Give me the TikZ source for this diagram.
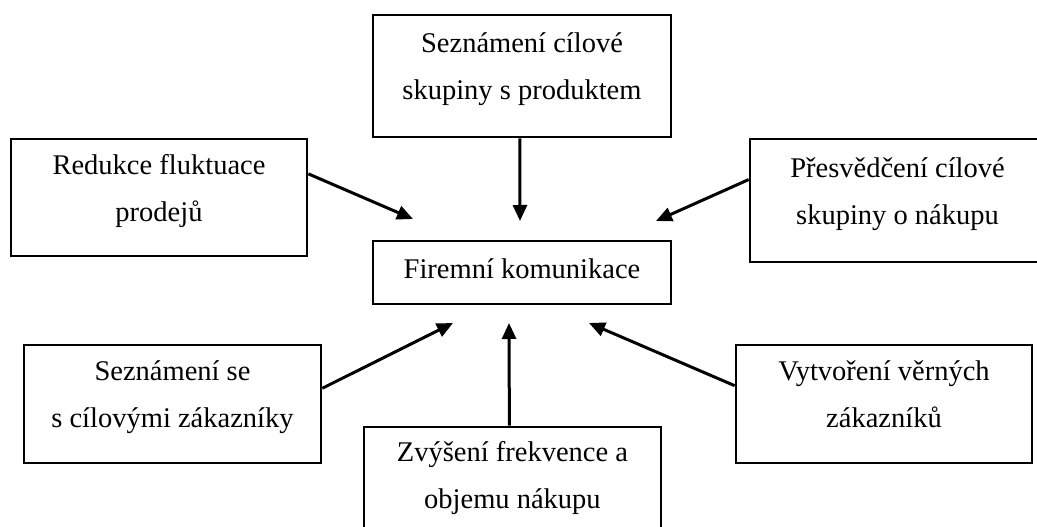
\documentclass[tikz,border=0pt]{standalone}
\usepackage{fontspec}
\setmainfont{Liberation Serif}
\usetikzlibrary{arrows.meta}

% one text line with a fixed, symmetric strut so two-line boxes centre on their baselines
\newcommand\boxrow{\vrule height 22pt depth 22pt width 0pt}
% single-line strut
\newcommand\onerow{\vrule height 20pt depth 9pt width 0pt}

\begin{document}
\begin{tikzpicture}[
  x=1pt, y=-1pt,
  box/.style={draw, line width=2.7pt, rectangle, inner sep=0pt, align=center,
              font=\fontsize{28.5}{47}\selectfont, text=black},
  arr/.style={line width=3pt, -{Triangle[length=16pt,width=14pt]}},
]
\useasboundingbox (0,0) rectangle (1037,527);
\clip (0,0) rectangle (1037,527);

% central box
\node[box, minimum width=298pt, minimum height=63pt] (mid) at (522,272.5)
  {\onerow Firemní komunikace};

% surrounding boxes
\node[box, minimum width=298pt, minimum height=122pt] (top) at (522,76)
  {\boxrow Seznámení cílové\\\boxrow skupiny s produktem};
\node[box, minimum width=296pt, minimum height=117pt] (tl) at (159,197.5)
  {\boxrow Redukce fluktuace\\\boxrow prodejů};
\node[box, minimum width=295pt, minimum height=123pt] (tr) at (897.5,200.5)
  {\boxrow Přesvědčení cílové\\\boxrow skupiny o nákupu};
\node[box, minimum width=297pt, minimum height=118pt] (bl) at (172.5,404)
  {\boxrow Seznámení se\\\boxrow s cílovými zákazníky};
\node[box, minimum width=297pt, minimum height=116pt] (bc) at (512.5,485)
  {\boxrow Zvýšení frekvence a\\\boxrow objemu nákupu};
\node[box, minimum width=296pt, minimum height=118pt] (br) at (884,404)
  {\boxrow Vytvoření věrných\\\boxrow zákazníků};

% arrow tips around the central box
\coordinate (ptop) at (520,221);
\coordinate (ptl)  at (413,219);
\coordinate (ptr)  at (656,221);
\coordinate (pbl)  at (453,323);
\coordinate (pbc)  at (509,323);
\coordinate (pbr)  at (589,323);

\draw[arr] (top.268.1) -- (ptop);
\draw[arr] (tl.9.8)    -- (ptl);
\draw[arr] (tr.172.1)  -- (ptr);
\draw[arr] (bl.6.9)    -- (pbl);
\draw[arr] (bc.93.3)   -- (pbc);
\draw[arr] (br.173.1)  -- (pbr);
\end{tikzpicture}
\end{document}
